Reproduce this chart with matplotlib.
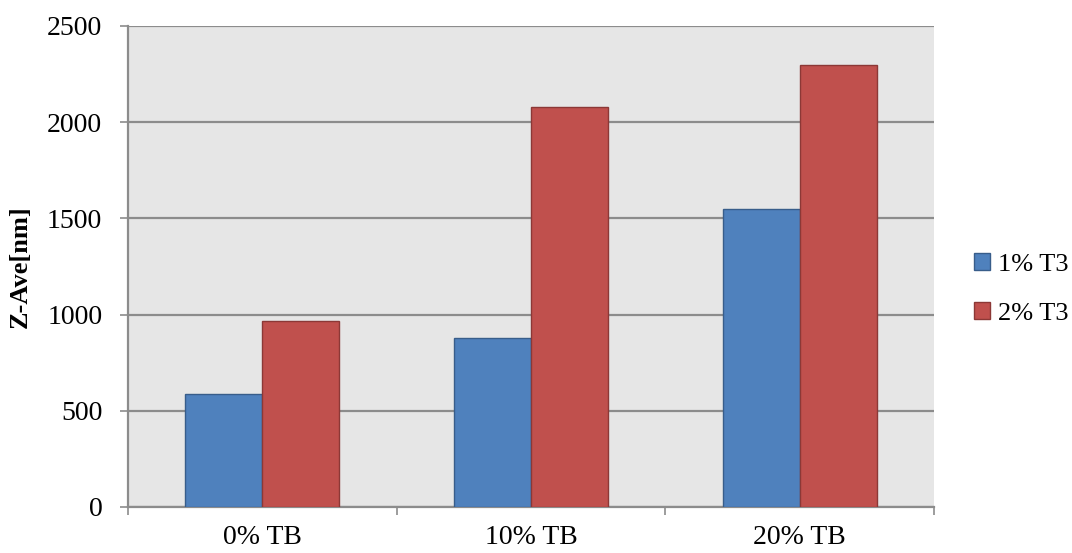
import numpy as np
import matplotlib.pyplot as plt
from matplotlib.patches import Patch

# 数据
categories = ["0% TB", "10% TB", "20% TB"]
series_names = ["1% T3", "2% T3"]
t3_1 = [587, 877, 1547]
t3_2 = [967, 2081, 2296]

fills = ["#4f81bd", "#c0504d"]
edges = ["#385d8a", "#8c3836"]

plt.rcParams["font.family"] = ["Liberation Serif", "DejaVu Serif"]

fig = plt.figure(figsize=(10.72, 5.53), dpi=100)
ax = fig.add_axes([128 / 1072, 1 - 507 / 553, 806 / 1072, 481 / 553])
ax.set_facecolor("#e6e6e6")

x = np.arange(len(categories))
w = 0.2866
for i, vals in enumerate([t3_1, t3_2]):
    ax.bar(x + (i - 0.5) * w, vals, width=w, color=fills[i],
           edgecolor=edges[i], linewidth=1.0, zorder=3)

ax.set_xlim(-0.5, len(categories) - 0.5)
ax.set_ylim(0, 2500)
ax.set_yticks(range(0, 2501, 500))
ax.yaxis.grid(True, color="#8c8c8c", linewidth=1.6, zorder=0)
ax.set_axisbelow(True)

# 类别刻度在组间边界，标签居中
ax.set_xticks(np.arange(-0.5, len(categories), 1.0))
ax.set_xticklabels([])
ax.set_xticks(x, minor=True)
ax.set_xticklabels(categories, minor=True)
ax.tick_params(axis="x", which="minor", length=0, pad=13, labelsize=20)
ax.tick_params(axis="x", which="major", length=6, width=1.2, color="#8c8c8c")
ax.tick_params(axis="y", length=5.5, width=1.2, color="#8c8c8c", pad=13, labelsize=20)

for s in ["top", "right"]:
    ax.spines[s].set_visible(False)
for s in ["left", "bottom"]:
    ax.spines[s].set_color("#8c8c8c")
    ax.spines[s].set_linewidth(1.6)

fig.text(20 / 1072, 1 - 267 / 553, "Z-Ave[nm]", rotation=90, ha="center", va="center",
         fontsize=19, fontweight="bold")

handles = [Patch(facecolor=fills[i], edgecolor=edges[i], label=series_names[i])
           for i in range(2)]
fig.legend(handles=handles, loc="center left", bbox_to_anchor=(950 / 1072, 1 - 289 / 553),
           frameon=False, fontsize=19, handlelength=0.6, handleheight=0.6,
           handletextpad=0.3, labelspacing=1.0)

fig.savefig("out.png", dpi=100)
